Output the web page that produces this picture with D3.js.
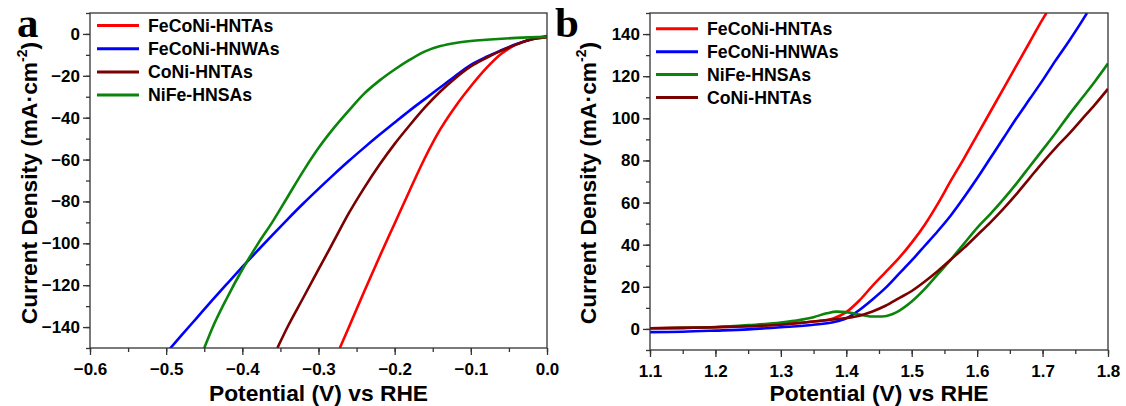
<!DOCTYPE html>
<html><head><meta charset="utf-8">
<script src="https://cdn.jsdelivr.net/npm/d3@7"></script>
<style>
body{margin:0;background:#fff}
svg{display:block}
text{font-family:"Liberation Sans",Arial,sans-serif;font-weight:bold;fill:#000}
text.letter{font-family:"Liberation Serif","Times New Roman",serif}
</style>
</head><body>
<svg id="c" width="1126" height="406"></svg>
<script>
// ---------- DATA ----------
// Panel a (HER): [potential V vs RHE, current density mA/cm2]
const herFeCoNiHNTAs = [[0,-1.5],[-0.02,-2.5],[-0.04,-5],[-0.06,-9.5],[-0.08,-16.5],[-0.1,-25],[-0.12,-34.5],[-0.14,-45.5],[-0.16,-59],[-0.18,-74.5],[-0.2,-90.5],[-0.22,-106.5],[-0.24,-123],[-0.26,-140],[-0.272,-150]];
const herFeCoNiHNWAs = [[0,-1],[-0.02,-2.5],[-0.04,-4.8],[-0.06,-7.8],[-0.08,-11],[-0.1,-14.8],[-0.12,-20],[-0.14,-25.5],[-0.16,-31],[-0.18,-36.5],[-0.2,-42.3],[-0.22,-48.2],[-0.24,-54.3],[-0.26,-60.6],[-0.28,-67.2],[-0.3,-74],[-0.32,-81],[-0.34,-88.3],[-0.36,-95.8],[-0.38,-103.5],[-0.4,-111.3],[-0.42,-119.3],[-0.44,-127.4],[-0.46,-135.7],[-0.48,-144],[-0.495,-150.3]];
const herCoNiHNTAs = [[0,-1.5],[-0.02,-2.5],[-0.04,-5],[-0.06,-8],[-0.08,-11.5],[-0.1,-15.5],[-0.12,-21],[-0.14,-27.5],[-0.16,-35],[-0.18,-43.5],[-0.2,-52.5],[-0.22,-62.5],[-0.24,-73.5],[-0.26,-85.5],[-0.28,-99],[-0.3,-112.5],[-0.32,-126],[-0.34,-139.5],[-0.354,-150]];
const herNiFeHNSAs = [[0,-1.4],[-0.04,-1.9],[-0.08,-2.8],[-0.1,-3.4],[-0.12,-4.3],[-0.14,-5.8],[-0.16,-8.3],[-0.18,-12.3],[-0.2,-17],[-0.22,-22.3],[-0.24,-28.5],[-0.26,-36.5],[-0.28,-45],[-0.3,-54.5],[-0.32,-65.5],[-0.34,-77.5],[-0.36,-89.5],[-0.38,-100.5],[-0.4,-112.5],[-0.42,-126],[-0.44,-141],[-0.45,-150]];

// Panel b (OER)
const oerFeCoNiHNTAs = [[1.1,0.3],[1.15,0.5],[1.2,0.8],[1.25,1.3],[1.3,2.2],[1.35,3.5],[1.38,5],[1.4,8],[1.42,13.5],[1.44,20.5],[1.46,27],[1.48,33.5],[1.5,41],[1.52,49.5],[1.54,59.5],[1.56,70.5],[1.58,81],[1.6,92],[1.62,103],[1.64,114],[1.66,125],[1.68,136],[1.7,147],[1.706,150]];
const oerFeCoNiHNWAs = [[1.1,-1.5],[1.15,-1.3],[1.2,-0.8],[1.25,-0.2],[1.3,0.8],[1.35,2],[1.38,3.2],[1.4,5],[1.42,9],[1.44,14],[1.46,19.5],[1.48,26],[1.5,32.5],[1.52,39.5],[1.54,46.5],[1.56,54],[1.58,62.5],[1.6,71.5],[1.62,81],[1.64,90.5],[1.66,100],[1.68,109],[1.7,118],[1.72,127.5],[1.74,136.5],[1.76,146],[1.768,150]];
const oerNiFeHNSAs = [[1.1,0.3],[1.15,0.5],[1.2,0.9],[1.25,1.8],[1.3,3],[1.33,4.3],[1.35,5.6],[1.37,7.4],[1.385,8.2],[1.4,8],[1.42,6.8],[1.44,5.9],[1.455,5.9],[1.47,7],[1.48,8.5],[1.5,13],[1.52,19],[1.54,26],[1.56,33],[1.58,40.5],[1.6,48],[1.62,54.5],[1.64,61.5],[1.66,69],[1.68,77],[1.7,85],[1.72,93],[1.74,101.5],[1.76,109.5],[1.78,117.5],[1.8,126]];
const oerCoNiHNTAs = [[1.1,0.3],[1.15,0.5],[1.2,0.8],[1.25,1.3],[1.3,2],[1.35,3.5],[1.38,4.5],[1.4,5.2],[1.42,6.3],[1.44,8.3],[1.46,11],[1.48,14.5],[1.5,18],[1.52,22.5],[1.54,27.5],[1.56,33],[1.58,38.5],[1.6,44.5],[1.62,50.5],[1.64,57],[1.66,64],[1.68,71.5],[1.7,79],[1.72,86],[1.74,92.5],[1.76,99.5],[1.78,106.5],[1.8,114]];

const legendA = ["FeCoNi-HNTAs","FeCoNi-HNWAs","CoNi-HNTAs","NiFe-HNSAs"];
const legendB = ["FeCoNi-HNTAs","FeCoNi-HNWAs","NiFe-HNSAs","CoNi-HNTAs"];
const colorsA = ["#ff0000","#0000ff","#7b0000","#0a840a"];
const colorsB = ["#ff0000","#0000ff","#0a840a","#7b0000"];
const seriesA = [herFeCoNiHNTAs, herFeCoNiHNWAs, herCoNiHNTAs, herNiFeHNSAs];
const seriesB = [oerFeCoNiHNTAs, oerFeCoNiHNWAs, oerNiFeHNSAs, oerCoNiHNTAs];
const xTicksA = [-0.6,-0.5,-0.4,-0.3,-0.2,-0.1,0.0];
const yTicksA = [0,-20,-40,-60,-80,-100,-120,-140];
const xTicksB = [1.1,1.2,1.3,1.4,1.5,1.6,1.7,1.8];
const yTicksB = [0,20,40,60,80,100,120,140];
const xLabel = "Potential (V) vs RHE";

// ---------- DRAW ----------
const svg = d3.select("#c");

function panel(cfg){
  const g = svg.append("g");
  const x = d3.scaleLinear().domain(cfg.xDom).range([cfg.left, cfg.right]);
  const y = d3.scaleLinear().domain(cfg.yDom).range([cfg.bottom, cfg.top]);
  const clipId = "clip" + cfg.id;
  svg.append("clipPath").attr("id", clipId).append("rect")
    .attr("x", cfg.left).attr("y", cfg.top).attr("width", cfg.right - cfg.left).attr("height", cfg.bottom - cfg.top);

  const styleLines = a=>a.selectAll("line").attr("stroke","#333").attr("stroke-width",1.3);
  const styleText = a=>a.selectAll("text").attr("font-size",17).attr("fill","#000");
  // minor ticks
  const xMinor = d3.range(Math.round(cfg.xDom[0]*20), Math.round(cfg.xDom[1]*20)+1).map(v=>v/20);
  const yMinor = d3.range(cfg.yDom[0], cfg.yDom[1]+0.1, 10);
  g.append("g").attr("transform",`translate(0,${cfg.bottom})`)
    .call(d3.axisBottom(x).tickValues(xMinor).tickSize(4).tickFormat(""))
    .call(a=>a.select(".domain").remove()).call(styleLines);
  g.append("g").attr("transform",`translate(${cfg.left},0)`)
    .call(d3.axisLeft(y).tickValues(yMinor).tickSize(4).tickFormat(""))
    .call(a=>a.select(".domain").remove()).call(styleLines);
  // major
  g.append("g").attr("transform",`translate(0,${cfg.bottom})`)
    .call(d3.axisBottom(x).tickValues(cfg.xTicks).tickSize(7).tickPadding(8).tickFormat(d3.format(".1f")))
    .call(a=>a.select(".domain").remove()).call(styleLines).call(styleText);
  g.append("g").attr("transform",`translate(${cfg.left},0)`)
    .call(d3.axisLeft(y).tickValues(cfg.yTicks).tickSize(7).tickPadding(3).tickFormat(d3.format("d")))
    .call(a=>a.select(".domain").remove()).call(styleLines).call(styleText);

  // curves
  const line = d3.line().x(d=>x(d[0])).y(d=>y(d[1])).curve(d3.curveMonotoneX);
  const cg = g.append("g").attr("clip-path",`url(#${clipId})`);
  cfg.series.forEach((s,i)=>{
    const sorted = s.slice().sort((a,b)=>a[0]-b[0]);
    cg.append("path").attr("d", line(sorted)).attr("fill","none")
      .attr("stroke", cfg.colors[i]).attr("stroke-width",2.6).attr("stroke-linejoin","round");
  });

  // frame
  g.append("rect").attr("x",cfg.left).attr("y",cfg.top).attr("width",cfg.right-cfg.left).attr("height",cfg.bottom-cfg.top)
    .attr("fill","none").attr("stroke","#333").attr("stroke-width",1.3);

  // legend
  cfg.legend.forEach((name,i)=>{
    const ly = cfg.legY + i*cfg.legStep;
    g.append("line").attr("x1",cfg.legX).attr("x2",cfg.legX+42).attr("y1",ly).attr("y2",ly)
      .attr("stroke",cfg.colors[i]).attr("stroke-width",3);
    g.append("text").attr("x",cfg.legX+51).attr("y",ly).attr("dy","0.36em").attr("font-size",17.7).text(name);
  });

  // axis titles
  g.append("text").attr("x",(cfg.left+cfg.right)/2).attr("y",401).attr("text-anchor","middle").attr("font-size",22.8).text(xLabel);
  const yt = g.append("text").attr("transform",`translate(${cfg.yLabX},183) rotate(-90)`)
    .attr("text-anchor","middle").attr("font-size",22.8);
  yt.append("tspan").text("Current Density (mA·cm");
  yt.append("tspan").attr("font-size",14).attr("dy",-10).text("-2");
  yt.append("tspan").attr("dy",10).text(")");

  // panel letter
  g.append("text").attr("class","letter").attr("x",cfg.letX).attr("y",cfg.letY).attr("font-size",43).text(cfg.letter);
}

panel({id:"a", left:90, right:547, top:13, bottom:348, xDom:[-0.6,0], yDom:[-150,10],
  xTicks:xTicksA, yTicks:yTicksA, series:seriesA, colors:colorsA, legend:legendA,
  legX:97, legY:25.5, legStep:23.2, yLabX:37, letter:"a", letX:17, letY:37});
panel({id:"b", left:650, right:1108, top:13, bottom:350, xDom:[1.1,1.8], yDom:[-10,150],
  xTicks:xTicksB, yTicks:yTicksB, series:seriesB, colors:colorsB, legend:legendB,
  legX:656, legY:28.8, legStep:22.9, yLabX:596, letter:"b", letX:555, letY:37});
</script>
</body></html>
